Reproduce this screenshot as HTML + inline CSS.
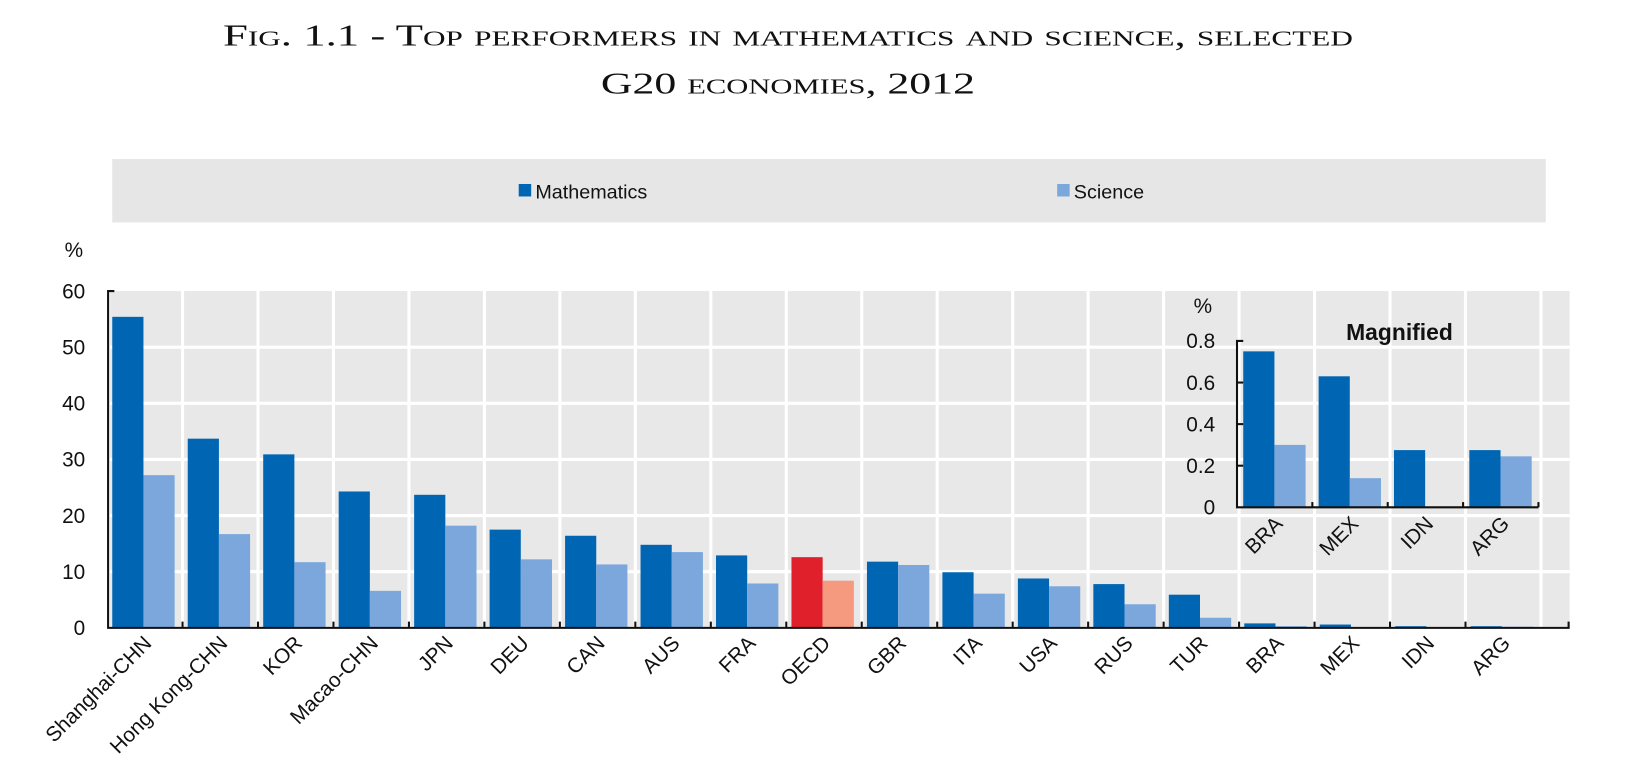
<!DOCTYPE html>
<html><head><meta charset="utf-8"><style>
html,body{margin:0;padding:0;background:#fff;}
svg{display:block;}
</style></head><body>
<svg width="1630" height="762" xmlns="http://www.w3.org/2000/svg" font-family="Liberation Sans, sans-serif">
<g transform="scale(1.0395)">
<g font-family="Liberation Serif, serif" fill="#111" text-anchor="middle">
<text x="758" y="44" font-size="29" style="font-variant:small-caps" textLength="1087" lengthAdjust="spacingAndGlyphs">Fig. 1.1 - Top performers in mathematics and science, selected</text>
<text x="758" y="90" font-size="29" style="font-variant:small-caps" textLength="360" lengthAdjust="spacingAndGlyphs">G20 economies, 2012</text>
</g>
<rect x="108" y="153" width="1379" height="61" fill="#e6e6e6"/>
<rect x="499" y="177" width="12" height="12" fill="#0066b3"/>
<text x="515" y="191" font-size="19" fill="#111">Mathematics</text>
<rect x="1017" y="177" width="12" height="12" fill="#7ba7dc"/>
<text x="1033" y="191" font-size="19" fill="#111">Science</text>

<rect x="106" y="280" width="1404" height="324" fill="#e8e8e8"/>
<g stroke="#fff" stroke-width="3">
<line x1="106" y1="334" x2="1510" y2="334"/><line x1="106" y1="388" x2="1510" y2="388"/>
<line x1="106" y1="442" x2="1510" y2="442"/><line x1="106" y1="496" x2="1510" y2="496"/>
<line x1="106" y1="550" x2="1510" y2="550"/>
<line x1="175.6" y1="280" x2="175.6" y2="604"/><line x1="248.2" y1="280" x2="248.2" y2="604"/>
<line x1="320.8" y1="280" x2="320.8" y2="604"/><line x1="393.4" y1="280" x2="393.4" y2="604"/>
<line x1="466" y1="280" x2="466" y2="604"/><line x1="538.6" y1="280" x2="538.6" y2="604"/>
<line x1="611.2" y1="280" x2="611.2" y2="604"/><line x1="683.8" y1="280" x2="683.8" y2="604"/>
<line x1="756.4" y1="280" x2="756.4" y2="604"/><line x1="829" y1="280" x2="829" y2="604"/>
<line x1="901.6" y1="280" x2="901.6" y2="604"/><line x1="974.2" y1="280" x2="974.2" y2="604"/>
<line x1="1046.8" y1="280" x2="1046.8" y2="604"/><line x1="1119.4" y1="280" x2="1119.4" y2="604"/>
<line x1="1192" y1="280" x2="1192" y2="604"/><line x1="1264.6" y1="280" x2="1264.6" y2="604"/>
<line x1="1337.2" y1="280" x2="1337.2" y2="604"/><line x1="1409.8" y1="280" x2="1409.8" y2="604"/>
<line x1="1482.4" y1="280" x2="1482.4" y2="604"/>
</g>
<g fill="#0066b3">
<rect x="108" y="304.8" width="30" height="299.2"/>
<rect x="180.6" y="422" width="30" height="182"/>
<rect x="253.2" y="437.1" width="30" height="166.9"/>
<rect x="325.8" y="472.8" width="30" height="131.2"/>
<rect x="398.4" y="476" width="30" height="128"/>
<rect x="471" y="509.5" width="30" height="94.5"/>
<rect x="543.6" y="515.4" width="30" height="88.6"/>
<rect x="616.2" y="524.1" width="30" height="79.9"/>
<rect x="688.8" y="534.3" width="30" height="69.7"/>
<rect x="834" y="540.3" width="30" height="63.7"/>
<rect x="906.6" y="550.5" width="30" height="53.5"/>
<rect x="979.2" y="556.5" width="30" height="47.5"/>
<rect x="1051.8" y="561.9" width="30" height="42.1"/>
<rect x="1124.4" y="572.1" width="30" height="31.9"/>
<rect x="1197" y="599.7" width="30" height="4.3"/>
<rect x="1269.6" y="600.8" width="30" height="3.2"/>
<rect x="1342.2" y="602.4" width="30" height="1.6"/>
<rect x="1414.8" y="602.4" width="30" height="1.6"/>
</g>
<g fill="#7ba7dc">
<rect x="138" y="457.1" width="30" height="146.9"/>
<rect x="210.6" y="513.8" width="30" height="90.2"/>
<rect x="283.2" y="540.8" width="30" height="63.2"/>
<rect x="355.8" y="568.4" width="30" height="35.6"/>
<rect x="428.4" y="505.7" width="30" height="98.3"/>
<rect x="501" y="538.1" width="30" height="65.9"/>
<rect x="573.6" y="543" width="30" height="61"/>
<rect x="646.2" y="531.1" width="30" height="72.9"/>
<rect x="718.8" y="561.3" width="30" height="42.7"/>
<rect x="864" y="543.5" width="30" height="60.5"/>
<rect x="936.6" y="571.1" width="30" height="32.9"/>
<rect x="1009.2" y="564" width="30" height="40"/>
<rect x="1081.8" y="581.3" width="30" height="22.7"/>
<rect x="1154.4" y="594.3" width="30" height="9.7"/>
<rect x="1227" y="602.4" width="30" height="1.6"/>
<rect x="1444.8" y="602.9" width="30" height="1.1"/>
</g>
<rect x="761.4" y="536" width="30" height="68" fill="#e0202a"/>
<rect x="791.4" y="558.6" width="30" height="45.4" fill="#f59a7e"/>
<g stroke="#111" stroke-width="2" fill="none">
<polyline points="110,280 104,280 104,604 1510,604"/>
<line x1="175.6" y1="604" x2="175.6" y2="598"/><line x1="248.2" y1="604" x2="248.2" y2="598"/>
<line x1="320.8" y1="604" x2="320.8" y2="598"/><line x1="393.4" y1="604" x2="393.4" y2="598"/>
<line x1="466" y1="604" x2="466" y2="598"/><line x1="538.6" y1="604" x2="538.6" y2="598"/>
<line x1="611.2" y1="604" x2="611.2" y2="598"/><line x1="683.8" y1="604" x2="683.8" y2="598"/>
<line x1="756.4" y1="604" x2="756.4" y2="598"/><line x1="829" y1="604" x2="829" y2="598"/>
<line x1="901.6" y1="604" x2="901.6" y2="598"/><line x1="974.2" y1="604" x2="974.2" y2="598"/>
<line x1="1046.8" y1="604" x2="1046.8" y2="598"/><line x1="1119.4" y1="604" x2="1119.4" y2="598"/>
<line x1="1192" y1="604" x2="1192" y2="598"/><line x1="1264.6" y1="604" x2="1264.6" y2="598"/>
<line x1="1337.2" y1="604" x2="1337.2" y2="598"/><line x1="1409.8" y1="604" x2="1409.8" y2="598"/>
<line x1="1509" y1="604" x2="1509" y2="598"/>
</g>
<g font-size="20" fill="#111" text-anchor="end">
<text x="80" y="247">%</text>
<text x="82" y="287">60</text><text x="82" y="341">50</text><text x="82" y="395">40</text>
<text x="82" y="449">30</text><text x="82" y="503">20</text><text x="82" y="557">10</text>
<text x="82" y="611">0</text>
</g>
<g font-size="20" fill="#111" text-anchor="end">
<text transform="translate(147,620) rotate(-45)">Shanghai-CHN</text>
<text transform="translate(220,620) rotate(-45)">Hong Kong-CHN</text>
<text transform="translate(292,620) rotate(-45)">KOR</text>
<text transform="translate(365,620) rotate(-45)">Macao-CHN</text>
<text transform="translate(437,620) rotate(-45)">JPN</text>
<text transform="translate(510,620) rotate(-45)">DEU</text>
<text transform="translate(583,620) rotate(-45)">CAN</text>
<text transform="translate(655,620) rotate(-45)">AUS</text>
<text transform="translate(728,620) rotate(-45)">FRA</text>
<text transform="translate(800,620) rotate(-45)">OECD</text>
<text transform="translate(873,620) rotate(-45)">GBR</text>
<text transform="translate(946,620) rotate(-45)">ITA</text>
<text transform="translate(1018,620) rotate(-45)">USA</text>
<text transform="translate(1091,620) rotate(-45)">RUS</text>
<text transform="translate(1163,620) rotate(-45)">TUR</text>
<text transform="translate(1236,620) rotate(-45)">BRA</text>
<text transform="translate(1309,620) rotate(-45)">MEX</text>
<text transform="translate(1381,620) rotate(-45)">IDN</text>
<text transform="translate(1454,620) rotate(-45)">ARG</text>
</g>

<g fill="#0066b3">
<rect x="1196" y="338" width="30" height="150"/>
<rect x="1268.5" y="362" width="30" height="126"/>
<rect x="1341" y="433" width="30" height="55"/>
<rect x="1413.5" y="433" width="30" height="55"/>
</g>
<g fill="#7ba7dc">
<rect x="1226" y="428" width="30" height="60"/>
<rect x="1298.5" y="460" width="30" height="28"/>
<rect x="1443.5" y="439" width="30" height="49"/>
</g>
<g stroke="#111" stroke-width="2" fill="none">
<polyline points="1196,328 1190,328 1190,488 1480,488"/>
<line x1="1190" y1="368" x2="1196" y2="368"/><line x1="1190" y1="408" x2="1196" y2="408"/>
<line x1="1190" y1="448" x2="1196" y2="448"/>
<line x1="1262.5" y1="488" x2="1262.5" y2="483"/><line x1="1335" y1="488" x2="1335" y2="483"/>
<line x1="1407.5" y1="488" x2="1407.5" y2="483"/><line x1="1480" y1="488" x2="1480" y2="483"/>
</g>
<g font-size="20" fill="#111" text-anchor="end">
<text x="1166" y="301">%</text>
<text x="1169" y="335">0.8</text><text x="1169" y="375">0.6</text><text x="1169" y="415">0.4</text>
<text x="1169" y="455">0.2</text><text x="1169" y="495">0</text>
</g>
<text x="1295" y="327" font-size="22" font-weight="bold" fill="#111">Magnified</text>
<g font-size="20" fill="#111" text-anchor="end">
<text transform="translate(1235,505) rotate(-45)">BRA</text>
<text transform="translate(1308,505) rotate(-45)">MEX</text>
<text transform="translate(1380,505) rotate(-45)">IDN</text>
<text transform="translate(1453,505) rotate(-45)">ARG</text>
</g>
</g>
</svg>
</body></html>
